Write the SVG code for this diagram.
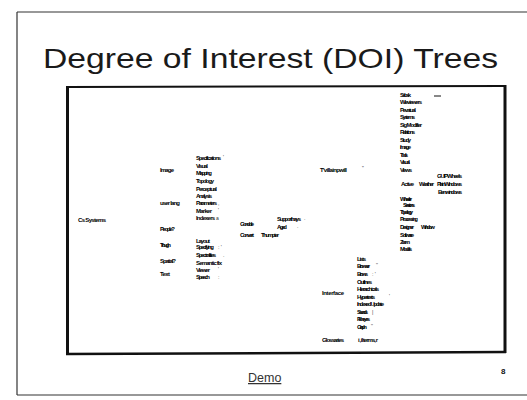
<svg xmlns="http://www.w3.org/2000/svg" width="527" height="400" viewBox="0 0 527 400">
<style>
.t{font-family:"Liberation Sans",Arial,sans-serif;font-weight:bold;font-size:6px;fill:#000}
.m{font-family:"Liberation Sans",Arial,sans-serif;font-size:5px;fill:#333}
.title{font-family:"Liberation Sans",Arial,sans-serif;font-size:28px;fill:#1a1a1a}
</style>
<rect width="527" height="400" fill="#fff"/>
<g id="slide-frame" fill="none" stroke="#333">
<line x1="17" y1="12" x2="527" y2="12" stroke-width="1.2"/>
<line x1="17" y1="12" x2="17" y2="395" stroke-width="1.2"/>
<line x1="17" y1="395" x2="527" y2="395" stroke-width="1.2"/>
</g>
<text id="title" class="title" x="43" y="68" textLength="455" lengthAdjust="spacingAndGlyphs">Degree of Interest (DOI) Trees</text>
<g id="screenshot-frame" fill="none" stroke="#111">
<line x1="67" y1="87" x2="505" y2="86" stroke-width="2"/>
<line x1="67.5" y1="86" x2="67.5" y2="355" stroke-width="3"/>
<line x1="505" y1="85" x2="505" y2="353" stroke-width="3"/>
<line x1="66" y1="354" x2="506" y2="352" stroke-width="2.5"/>
<line x1="434" y1="96" x2="441" y2="96" stroke-width="1"/>
</g>
<g id="connectors"></g>
<g id="root"><text class="t" x="78" y="222" textLength="28">Cs Systems</text></g>
<g id="left-level1">
<text class="t" x="160" y="172" textLength="14">Image</text>
<text class="t" x="160" y="205" textLength="20">user lang</text>
<text class="t" x="160" y="231" textLength="15">People?</text>
<text class="t" x="160" y="247" textLength="11">Trough</text>
<text class="t" x="160" y="263" textLength="16">Spatial?</text>
<text class="t" x="160" y="276" textLength="10">Text</text>
</g>
<g id="left-level2">
<text class="t" x="196" y="160" textLength="25">Specifications</text><text class="m" x="223" y="159">'</text>
<text class="t" x="196" y="168" textLength="12">Visual</text>
<text class="t" x="196" y="175" textLength="16">Mapping</text>
<text class="t" x="196" y="183" textLength="18">Topology</text>
<text class="t" x="196" y="191" textLength="21">Perceptual</text>
<text class="t" x="196" y="198" textLength="16">Analysis</text>
<text class="t" x="196" y="205" textLength="21">Parameters</text><text class="m" x="218" y="205">,</text>
<text class="t" x="196" y="213" textLength="16">Marker</text><text class="m" x="218" y="212">'</text>
<text class="t" x="196" y="220" textLength="19">Indexers</text><text class="m" x="216" y="220">a</text>
<text class="t" x="196" y="243" textLength="14">Layout</text>
<text class="t" x="196" y="249" textLength="18">Specifying</text><text class="m" x="218" y="249">: '</text>
<text class="t" x="196" y="257" textLength="20">Spectralities</text><text class="m" x="223" y="257">.</text>
<text class="t" x="196" y="265" textLength="26">Semantic fix</text>
<text class="t" x="196" y="272" textLength="14">Viewer</text><text class="m" x="218" y="271">'</text>
<text class="t" x="196" y="279" textLength="14">Speech</text><text class="m" x="218" y="279">:</text>
</g>
<g id="middle">
<text class="t" x="240" y="226" textLength="14">Gondole</text>
<text class="t" x="240" y="237" textLength="14">Convert</text>
<text class="t" x="261" y="237" textLength="18">Thumpter</text>
<text class="t" x="277" y="221" textLength="24">Supporthays</text><text class="m" x="304" y="220">.</text>
<text class="t" x="277" y="229" textLength="10">Aged</text><text class="m" x="297" y="228">.</text>
</g>
<g id="right-root"><text class="t" x="320" y="172" textLength="27">T'villainpwill</text><text class="m" x="362" y="170">"</text></g>
<g id="right-level">
<text class="t" x="400" y="97" textLength="11">Sabsk</text>
<text class="t" x="400" y="104" textLength="22">Wieviewers</text>
<text class="t" x="400" y="112" textLength="16">Pevatual</text>
<text class="t" x="400" y="119" textLength="15">Systems</text>
<text class="t" x="400" y="127" textLength="22">Sig Modifier</text>
<text class="t" x="400" y="134" textLength="15">Relations</text>
<text class="t" x="400" y="142" textLength="11">Study</text>
<text class="t" x="400" y="149" textLength="11">Image</text>
<text class="t" x="400" y="157" textLength="8">Tools</text>
<text class="t" x="400" y="164" textLength="10">Visual</text>
<text class="t" x="400" y="172" textLength="12">Views</text>
<text class="t" x="401" y="186" textLength="13">Active</text>
<text class="t" x="419" y="186" textLength="15">Weather</text>
<text class="t" x="437" y="178" textLength="25">GUIP Wheels</text>
<text class="t" x="437" y="186" textLength="25">Plain Windows</text>
<text class="t" x="438" y="194" textLength="24">B en windows</text>
<text class="t" x="400" y="201" textLength="12">Wheeler</text>
<text class="t" x="403" y="207" textLength="12">Sessions</text>
<text class="t" x="400" y="214" textLength="13">Topology</text>
<text class="t" x="400" y="221" textLength="18">Processing</text>
<text class="t" x="400" y="229" textLength="14">Designer</text>
<text class="t" x="421" y="229" textLength="14">Window</text>
<text class="t" x="400" y="237" textLength="14">Software</text>
<text class="t" x="400" y="244" textLength="10">Zoom</text>
<text class="t" x="400" y="251" textLength="12">Models</text>
</g>
<g id="bottom-tree">
<text class="t" x="322" y="295" textLength="22">Interface</text>
<text class="t" x="357" y="261" textLength="9">Lists</text>
<text class="t" x="357" y="268" textLength="13">Browser</text><text class="m" x="376" y="267">''</text>
<text class="t" x="357" y="276" textLength="11">Brows</text><text class="m" x="372" y="276">: '</text>
<text class="t" x="357" y="284" textLength="15">Outlines</text>
<text class="t" x="357" y="291" textLength="22">Hierarchicals</text>
<text class="t" x="357" y="299" textLength="18">Hypertexts</text><text class="m" x="389" y="298">'</text>
<text class="t" x="357" y="306" textLength="27">Indexed Update</text>
<text class="t" x="357" y="314" textLength="11">Sounds</text><text class="m" x="372" y="314">|</text>
<text class="t" x="357" y="321" textLength="13">Fisheyes</text>
<text class="t" x="357" y="329" textLength="10">Graph</text><text class="m" x="371" y="328">''</text>
<text class="t" x="322" y="342" textLength="22">Glossaries</text>
<text class="t" x="358" y="342" textLength="20">i , il terms, r</text>
</g>
<g id="footer">
<text x="248" y="382" font-family="Liberation Sans, Arial, sans-serif" font-size="12.5" fill="#333" text-decoration="underline">Demo</text>
<text x="501" y="374" font-family="Liberation Sans, Arial, sans-serif" font-size="8" font-weight="bold" fill="#111">8</text>
</g>
</svg>
